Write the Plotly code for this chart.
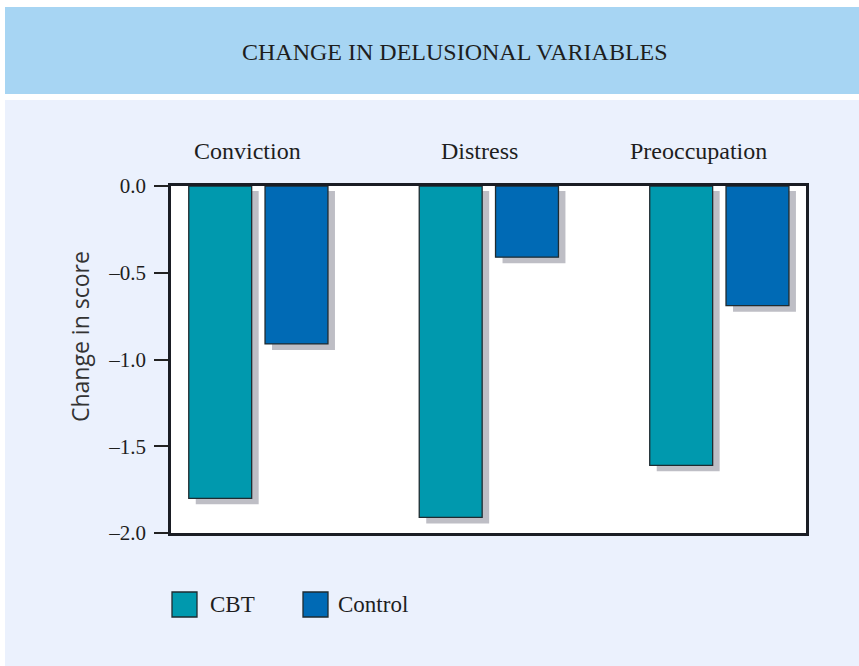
import plotly.graph_objects as go

# Mean change in delusional variables, by measure and group
categories = ["Conviction", "Distress", "Preoccupation"]
cbt_change = [-1.80, -1.91, -1.61]
control_change = [-0.91, -0.41, -0.69]
y_ticks = [0.0, -0.5, -1.0, -1.5, -2.0]
y_tick_labels = ["0.0", "–0.5", "–1.0", "–1.5", "–2.0"]

W, H = 859, 666
L, R, T, B = 171, 806, 186, 533  # plot area edges in page pixels

def px(x):
    return (x - L) / (R - L)

def py(y):
    return (B - y) / (B - T)

SERIF = "Liberation Serif, Times New Roman, serif"
CBT_COLOR = "#0099AE"
CTRL_COLOR = "#006AB5"
SHADOW = "#BEBEC5"
EDGE = "#1F2B30"

bar_w = 0.273
offsets = {"CBT": -0.305, "Control": 0.026}
# drop shadow geometry, in data units
sh_dx = 7 / 230.5
sh_top = 5 / 173.5
sh_drop = 6 / 173.5

fig = go.Figure()

for name, vals in (("CBT", cbt_change), ("Control", control_change)):
    fig.add_trace(go.Bar(
        x=categories,
        y=[v - sh_drop + sh_top for v in vals],
        base=[-sh_top] * len(vals),
        offset=offsets[name] + sh_dx,
        width=bar_w,
        marker=dict(color=SHADOW, line=dict(width=0)),
        showlegend=False,
        hoverinfo="skip",
    ))

for name, vals, col in (("CBT", cbt_change, CBT_COLOR), ("Control", control_change, CTRL_COLOR)):
    fig.add_trace(go.Bar(
        x=categories,
        y=vals,
        offset=offsets[name],
        width=bar_w,
        name=name,
        marker=dict(color=col, line=dict(color=EDGE, width=1.3)),
        showlegend=False,
    ))

shapes = [
    # title band
    dict(type="rect", xref="paper", yref="paper", layer="below",
         x0=px(5), x1=px(W + 5), y0=py(94), y1=py(7),
         fillcolor="#A7D5F3", line=dict(width=0)),
    # light panel
    dict(type="rect", xref="paper", yref="paper", layer="below",
         x0=px(5), x1=px(W + 5), y0=py(H + 5), y1=py(100),
         fillcolor="#EBF1FD", line=dict(width=0)),
    # plot background
    dict(type="rect", xref="paper", yref="paper", layer="below",
         x0=0, x1=1, y0=0, y1=1, fillcolor="white", line=dict(width=0)),
]

annotations = [
    dict(text="CHANGE IN DELUSIONAL VARIABLES", xref="paper", yref="paper",
         x=px(455), y=py(52), showarrow=False, xanchor="center", yanchor="middle",
         font=dict(family=SERIF, size=24, color="#1E1E1E")),
    dict(text="Change in score", xref="paper", yref="paper", textangle=-90,
         x=px(80), y=py(336), showarrow=False, xanchor="center", yanchor="middle",
         font=dict(family="Open Sans, sans-serif", size=23, color="#333333")),
]

# measure labels above each group
label_shift = [-12, -10, -22]
for cat, dx in zip(categories, label_shift):
    annotations.append(dict(
        text=cat, xref="x", yref="paper", x=cat, xshift=dx, y=py(151),
        showarrow=False, xanchor="center", yanchor="middle",
        font=dict(family=SERIF, size=24, color="#1E1E1E")))

# legend keys
legend_items = [("CBT", CBT_COLOR, 172, 208), ("Control", CTRL_COLOR, 303, 336)]
for name, col, x0, tx in legend_items:
    shapes.append(dict(type="rect", xref="paper", yref="paper",
                       x0=px(x0), x1=px(x0 + 25), y0=py(617), y1=py(592),
                       fillcolor=col, line=dict(color=EDGE, width=1.3)))
    annotations.append(dict(text=name, xref="paper", yref="paper",
                            x=px(tx), y=py(604), showarrow=False,
                            xanchor="left", yanchor="middle",
                            font=dict(family=SERIF, size=23, color="#1E1E1E")))

fig.update_layout(
    width=W, height=H,
    margin=dict(l=L, r=W - R, t=T, b=H - B, pad=0),
    paper_bgcolor="white",
    plot_bgcolor="white",
    barmode="overlay",
    shapes=shapes,
    annotations=annotations,
    showlegend=False,
    xaxis=dict(type="category", range=[-0.382, 2.373], showticklabels=False,
               ticks="", showgrid=False, zeroline=False,
               showline=True, linewidth=2.5, linecolor="#1A1D24", mirror=True),
    yaxis=dict(range=[-2.0, 0.0], tickvals=y_ticks, ticktext=y_tick_labels,
               ticks="outside", ticklen=14, tickwidth=1.5, tickcolor="#222222",
               ticklabelstandoff=4,
               tickfont=dict(family=SERIF, size=21, color="#1E1E1E"),
               showgrid=False, zeroline=False,
               showline=True, linewidth=2.5, linecolor="#1A1D24", mirror=True),
)

fig.write_html("out.html")
